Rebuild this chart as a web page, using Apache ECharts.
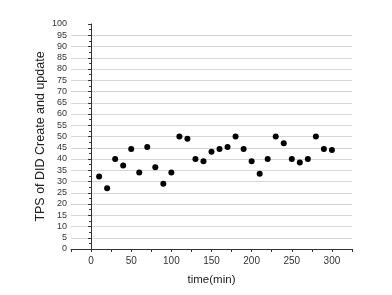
<!DOCTYPE html>
<html><head><meta charset="utf-8">
<script src="https://cdn.jsdelivr.net/npm/echarts@6/dist/echarts.min.js"></script>
<style>html,body{margin:0;padding:0;background:#fff}#c{width:392px;height:295px}</style>
</head><body><div id="c"></div>
<script>
const times = [10,20,30,40,50,60,70,80,90,100,110,120,130,140,150,160,170,180,190,200,210,220,230,240,250,260,270,280,290,300];
const tps = [32.2,27,40,37.1,44.5,34,45.3,36.3,29,34,50,49,40,39,43.2,44.5,45.3,50,44.5,39,33.5,40,50,47,40,38.5,40,50,44.5,44];
const xLabels = [0,50,100,150,200,250,300];
const data = times.map((t,i)=>[t,tps[i]]);
const chart = echarts.init(document.getElementById('c'));
const font = 'Liberation Sans, Arial, sans-serif';
chart.setOption({
  animation:false,
  grid:{left:71,right:40,top:24,bottom:46,containLabel:false},
  xAxis:{type:'value',min:-25,max:325,interval:25,
    name:'time(min)',nameLocation:'middle',nameGap:25,nameMoveOverlap:false,
    nameTextStyle:{fontFamily:font,fontSize:11.5,color:'#222'},
    axisLine:{show:true,lineStyle:{color:'#333',width:1}},
    axisTick:{show:true,inside:false,length:3,lineStyle:{color:'#333'}},
    axisLabel:{fontFamily:font,fontSize:10,color:'#333',margin:7,
      formatter:v=>xLabels.indexOf(v)>=0?String(v):''},
    splitLine:{show:false}},
  yAxis:{type:'value',min:0,max:100,interval:5,
    name:'TPS of DID Create and update',nameLocation:'middle',nameGap:24,nameMoveOverlap:false,
    nameTextStyle:{fontFamily:font,fontSize:12.5,color:'#222'},
    axisLine:{show:true,lineStyle:{color:'#333',width:1}},
    axisTick:{show:true,length:3,lineStyle:{color:'#333'}},
    minorTick:{show:true,splitNumber:2,length:2,lineStyle:{color:'#333'}},
    axisLabel:{fontFamily:font,fontSize:9,color:'#333',margin:4},
    splitLine:{show:true,lineStyle:{color:'#d6d6d6',width:1},
      showMinLine:false,showMaxLine:false}},
  series:[{type:'scatter',data:data,symbol:'circle',symbolSize:6,
    itemStyle:{color:'#000',opacity:1}}]
});
</script></body></html>
